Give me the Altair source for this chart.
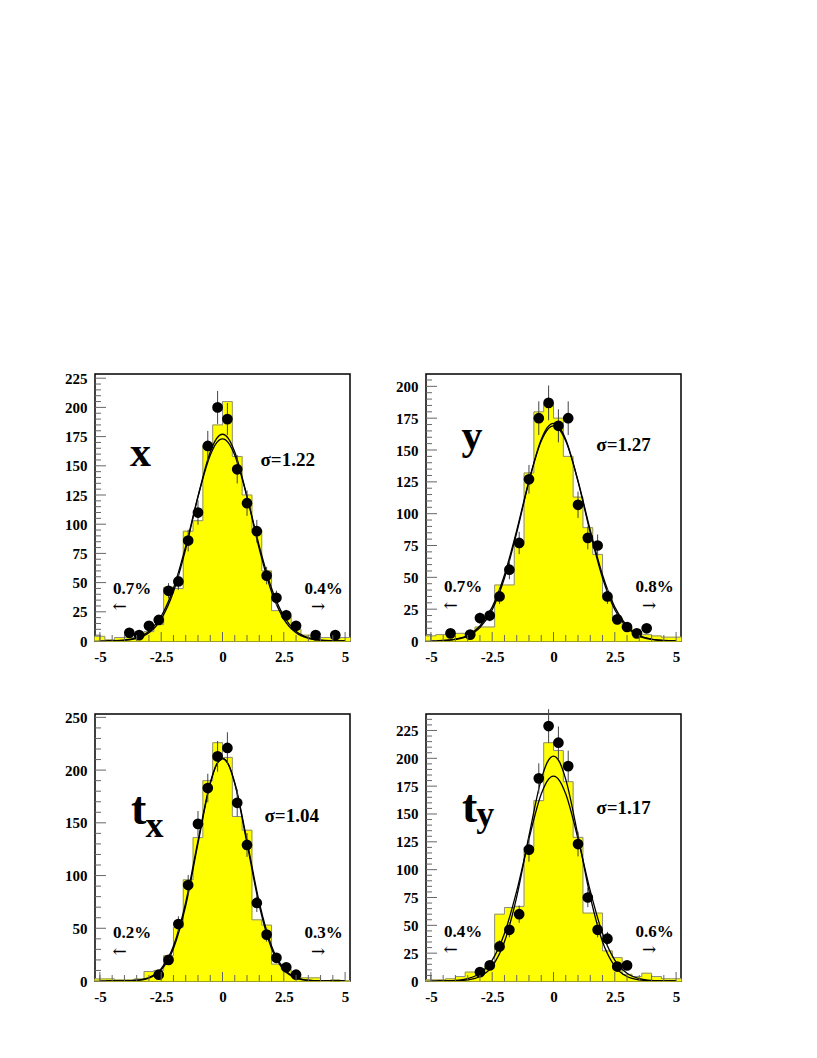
import altair as alt
import pandas as pd

# ---------------- data ----------------
BIN_LEFT = [-5.2, -4.8, -4.4, -4.0, -3.6, -3.2, -2.8, -2.4, -2.0, -1.6, -1.2, -0.8, -0.4,
            0.0, 0.4, 0.8, 1.2, 1.6, 2.0, 2.4, 2.8, 3.2, 3.6, 4.0, 4.4, 4.8]
BIN_WIDTH = 0.4

HIST_X = [4, 1, 3, 3, 4, 8, 14, 46, 45, 94, 103, 167, 185,
          205, 158, 125, 95, 60, 26, 21, 10, 5, 3, 3, 2, 3]
HIST_Y = [4, 5, 6, 6, 4, 11, 11, 44, 44, 78, 132, 180, 186,
          175, 145, 113, 89, 68, 35, 18, 10, 7, 5, 4, 3, 3]
HIST_TX = [2, 2, 1, 1, 2, 9, 10, 24, 51, 96, 136, 190, 226,
           212, 156, 143, 58, 53, 16, 11, 4, 3, 3, 0, 1, 0]
HIST_TY = [1, 1, 2, 4, 8, 8, 13, 60, 66, 67, 120, 162, 214,
           207, 179, 129, 61, 61, 27, 21, 6, 4, 7, 4, 2, 2]

DOT_X_X = [-3.8, -3.4, -3.0, -2.6, -2.2, -1.8, -1.4, -1.0, -0.6, -0.2,
           0.2, 0.6, 1.0, 1.4, 1.8, 2.2, 2.6, 3.0, 3.8, 4.6]
DOT_N_X = [7, 5, 13, 18, 43, 51, 86, 110, 167, 200,
           190, 147, 118, 94, 56, 37, 22, 13, 5, 5]
DOT_X_Y = [-4.2, -3.4, -3.0, -2.6, -2.2, -1.8, -1.4, -1.0, -0.6, -0.2,
           0.2, 0.6, 1.0, 1.4, 1.8, 2.2, 2.6, 3.0, 3.4, 3.8]
DOT_N_Y = [6, 5, 18, 20, 35, 56, 77, 127, 175, 187,
           169, 175, 107, 81, 75, 35, 17, 11, 6, 10]
DOT_X_TX = [-2.6, -2.2, -1.8, -1.4, -1.0, -0.6, -0.2, 0.2, 0.6, 1.0,
            1.4, 1.8, 2.2, 2.6, 3.0]
DOT_N_TX = [6, 20, 54, 91, 149, 183, 213, 221, 169, 129, 74, 44, 22, 13, 6]
DOT_X_TY = [-3.0, -2.6, -2.2, -1.8, -1.4, -1.0, -0.6, -0.2, 0.2, 0.6,
            1.0, 1.4, 1.8, 2.2, 2.6, 3.0]
DOT_N_TY = [8, 14, 31, 46, 60, 118, 182, 229, 214, 193, 123, 75, 46, 38, 13, 14]

CURVE_T = [-5.0, -4.5, -4.0, -3.5, -3.0, -2.5, -2.0, -1.5, -1.0, -0.5, -0.25, 0.0,
           0.25, 0.5, 1.0, 1.5, 2.0, 2.5, 3.0, 3.5, 4.0, 4.5, 5.0]
FIT_X_A = [0.0, 0.1, 0.6, 2.2, 7.0, 18.8, 42.1, 78.9, 123.6, 161.8, 173.1, 177.0,
           173.1, 161.8, 123.6, 78.9, 42.1, 18.8, 7.0, 2.2, 0.6, 0.1, 0.0]
FIT_X_B = [0.0, 0.2, 0.8, 2.8, 8.4, 21.2, 45.1, 81.2, 123.6, 159.0, 169.4, 173.0,
           169.4, 159.0, 123.6, 81.2, 45.1, 21.2, 8.4, 2.8, 0.8, 0.2, 0.0]
FIT_Y_A = [0.1, 0.3, 1.2, 3.8, 10.5, 24.6, 49.5, 85.1, 125.4, 158.2, 167.7, 171.0,
           167.7, 158.2, 125.4, 85.1, 49.5, 24.6, 10.5, 3.8, 1.2, 0.3, 0.1]
FIT_Y_B = [0.1, 0.4, 1.5, 4.5, 11.8, 26.6, 51.8, 86.9, 125.7, 157.0, 165.9, 169.0,
           165.9, 157.0, 125.7, 86.9, 51.8, 26.6, 11.8, 4.5, 1.5, 0.4, 0.1]
FIT_TX_A = [0.0, 0.0, 0.1, 0.6, 2.8, 10.5, 30.9, 71.6, 130.5, 187.1, 204.8, 211.0,
            204.8, 187.1, 130.5, 71.6, 30.9, 10.5, 2.8, 0.6, 0.1, 0.0, 0.0]
FIT_TX_B = [0.0, 0.0, 0.1, 0.7, 3.3, 11.7, 33.2, 74.6, 132.9, 188.0, 205.0, 211.0,
            205.0, 188.0, 132.9, 74.6, 33.2, 11.7, 3.3, 0.7, 0.1, 0.0, 0.0]
FIT_TY_A = [0.0, 0.0, 0.2, 1.0, 4.0, 13.2, 35.2, 75.6, 130.5, 181.1, 196.6, 202.0,
            196.6, 181.1, 130.5, 75.6, 35.2, 13.2, 4.0, 1.0, 0.2, 0.0, 0.0]
FIT_TY_B = [0.0, 0.1, 0.5, 2.1, 6.9, 18.8, 42.7, 80.9, 127.7, 167.9, 179.8, 184.0,
            179.8, 167.9, 127.7, 80.9, 42.7, 18.8, 6.9, 2.1, 0.5, 0.1, 0.0]

X_LABELS = [-5, -2.5, 0, 2.5, 5]
X_MINOR = [-5, -4.5, -4, -3.5, -3, -2, -1.5, -1, -0.5, 0.5, 1, 1.5, 2, 3, 3.5, 4, 4.5]

Y_LABELS_X = [0, 25, 50, 75, 100, 125, 150, 175, 200, 225]
Y_LABELS_Y = [0, 25, 50, 75, 100, 125, 150, 175, 200]
Y_LABELS_TX = [0, 50, 100, 150, 200, 250]
Y_LABELS_TY = [0, 25, 50, 75, 100, 125, 150, 175, 200, 225]

SIGMA_X, SIGMA_Y, SIGMA_TX, SIGMA_TY = "σ=1.22", "σ=1.27", "σ=1.04", "σ=1.17"
TAILS_X = ["0.7%", "0.4%"]
TAILS_Y = ["0.7%", "0.8%"]
TAILS_TX = ["0.2%", "0.3%"]
TAILS_TY = ["0.4%", "0.6%"]

# ---------------- styling ----------------
W, H = 255, 267
FONT = "Liberation Serif"
ARROW_FONT = "DejaVu Serif"


def txt(s, x, y, size, weight="bold", align="left", baseline="alphabetic", font=FONT):
    return alt.Chart(pd.DataFrame({"s": [s]})).mark_text(
        font=font, fontSize=size, fontWeight=weight, align=align,
        baseline=baseline, color="black"
    ).encode(x=alt.value(x), y=alt.value(y), text="s:N")


def panel(hist, dx, dn, fa, fb, ymax, ylabels, yminor_step, letters, sigma, sig_pos,
          tails, tail_y):
    arrow_y = tail_y + 13.5
    xscale = alt.Scale(domain=[-5.2, 5.2], nice=False, zero=False)
    yscale = alt.Scale(domain=[0, ymax], nice=False, zero=False)
    xaxis = alt.Axis(values=X_LABELS, title=None, ticks=False, domain=False, grid=False,
                     labelPadding=8, labelFont=FONT, labelFontWeight="bold",
                     labelFontSize=15, labelColor="black", labelFlush=False,
                     labelOverlap=False, labelExpr="datum.value + ''")
    yaxis = alt.Axis(values=ylabels, title=None, ticks=False, domain=False, grid=False,
                     labelPadding=8, labelFont=FONT, labelFontWeight="bold",
                     labelFontSize=15, labelColor="black", labelFlush=False,
                     labelOverlap=False, labelExpr="datum.value + ''")

    def X(f):
        return alt.X(f, scale=xscale, axis=xaxis)

    def Y(f):
        return alt.Y(f, scale=yscale, axis=yaxis)

    hdf = pd.DataFrame({"lo": BIN_LEFT, "n": hist})
    bars = alt.Chart(hdf).transform_calculate(
        hi=f"datum.lo + {BIN_WIDTH}"
    ).mark_rect(color="#ffff00", stroke="#ffff00", strokeWidth=1).encode(
        x=X("lo:Q"), x2="hi:Q", y=Y("n:Q"), y2=alt.datum(0),
    )

    sdf = pd.DataFrame({"x": BIN_LEFT + [BIN_LEFT[-1] + BIN_WIDTH],
                        "n": list(hist) + [hist[-1]]})
    outline = alt.Chart(sdf).mark_line(
        interpolate="step-after", color="#8c8c8c", strokeWidth=1
    ).encode(x=X("x:Q"), y=Y("n:Q"))

    cdf = pd.DataFrame({"t": CURVE_T * 2, "v": list(fa) + list(fb),
                        "fit": ["A"] * len(CURVE_T) + ["B"] * len(CURVE_T)})
    curves = alt.Chart(cdf).mark_line(
        color="black", strokeWidth=1.3, interpolate="monotone", clip=True
    ).encode(x=X("t:Q"), y=Y("v:Q"), detail="fit:N")

    ddf = pd.DataFrame({"x": dx, "n": dn})
    errs = alt.Chart(ddf).transform_calculate(
        lo="datum.n - sqrt(datum.n)", hi="datum.n + sqrt(datum.n)"
    ).mark_rule(color="#444", strokeWidth=1).encode(
        x=X("x:Q"), y=Y("lo:Q"), y2="hi:Q")
    dots = alt.Chart(ddf).mark_circle(size=115, color="black", opacity=1).encode(
        x=X("x:Q"), y=Y("n:Q"))

    xt_major = alt.Chart(pd.DataFrame({"v": X_LABELS})).mark_rule(
        color="#666", strokeWidth=1).encode(
        x=X("v:Q"), y=alt.value(H), y2=alt.value(H - 9))
    xt_minor = alt.Chart(pd.DataFrame({"v": X_MINOR})).mark_rule(
        color="#666", strokeWidth=1).encode(
        x=X("v:Q"), y=alt.value(H), y2=alt.value(H - 6))
    yminor = [v for v in range(0, int(ymax) + 1, yminor_step) if v not in ylabels]
    yt_major = alt.Chart(pd.DataFrame({"v": ylabels})).mark_rule(
        color="#666", strokeWidth=1).encode(
        y=Y("v:Q"), x=alt.value(0), x2=alt.value(11))
    yt_minor = alt.Chart(pd.DataFrame({"v": yminor})).mark_rule(
        color="#666", strokeWidth=1).encode(
        y=Y("v:Q"), x=alt.value(0), x2=alt.value(6))

    texts = []
    for (s, x, y, size, align) in letters:
        texts.append(txt(s, x, y, size, align=align))
    texts.append(txt(sigma, sig_pos[0], sig_pos[1], 19))
    texts.append(txt(tails[0], 18, tail_y, 17))
    texts.append(txt(tails[1], 209.5, tail_y, 17))
    texts.append(txt("←", 17.5, arrow_y, 17, weight="normal", baseline="middle",
                     font=ARROW_FONT))
    texts.append(txt("→", 216, arrow_y, 17, weight="normal", baseline="middle",
                     font=ARROW_FONT))

    return alt.layer(bars, outline, curves, errs, dots, xt_major, xt_minor,
                     yt_major, yt_minor, *texts).properties(width=W, height=H)


p1 = panel(HIST_X, DOT_X_X, DOT_N_X, FIT_X_A, FIT_X_B, 228.6, Y_LABELS_X, 5,
           [("x", 45.5, 92, 42, "center")], SIGMA_X, (165.5, 91.7),
           TAILS_X, 219.5)
p2 = panel(HIST_Y, DOT_X_Y, DOT_N_Y, FIT_Y_A, FIT_Y_B, 209.7, Y_LABELS_Y, 5,
           [("y", 46, 75, 42, "center")], SIGMA_Y, (170.3, 76.7),
           TAILS_Y, 218)
p3 = panel(HIST_TX, DOT_X_TX, DOT_N_TX, FIT_TX_A, FIT_TX_B, 253.2, Y_LABELS_TX, 10,
           [("t", 36, 110, 46, "left"), ("x", 50.5, 123, 36, "left")], SIGMA_TX,
           (169.5, 108.3), TAILS_TX, 224)
p4 = panel(HIST_TY, DOT_X_TY, DOT_N_TY, FIT_TY_A, FIT_TY_B, 239.8, Y_LABELS_TY, 5,
           [("t", 36, 108.3, 46, "left"), ("y", 50.3, 112, 36, "left")], SIGMA_TY,
           (170.3, 100), TAILS_TY, 222.5)

chart = alt.concat(
    p1, p2, p3, p4, columns=2, spacing={"row": 73, "column": 76}, bounds="flush"
).properties(
    padding={"left": 55, "top": 362, "right": 10, "bottom": 10},
    background="white",
).configure_view(stroke="black", strokeWidth=1.5)

chart.save("out.html", embed_options={"renderer": "svg", "actions": False})
